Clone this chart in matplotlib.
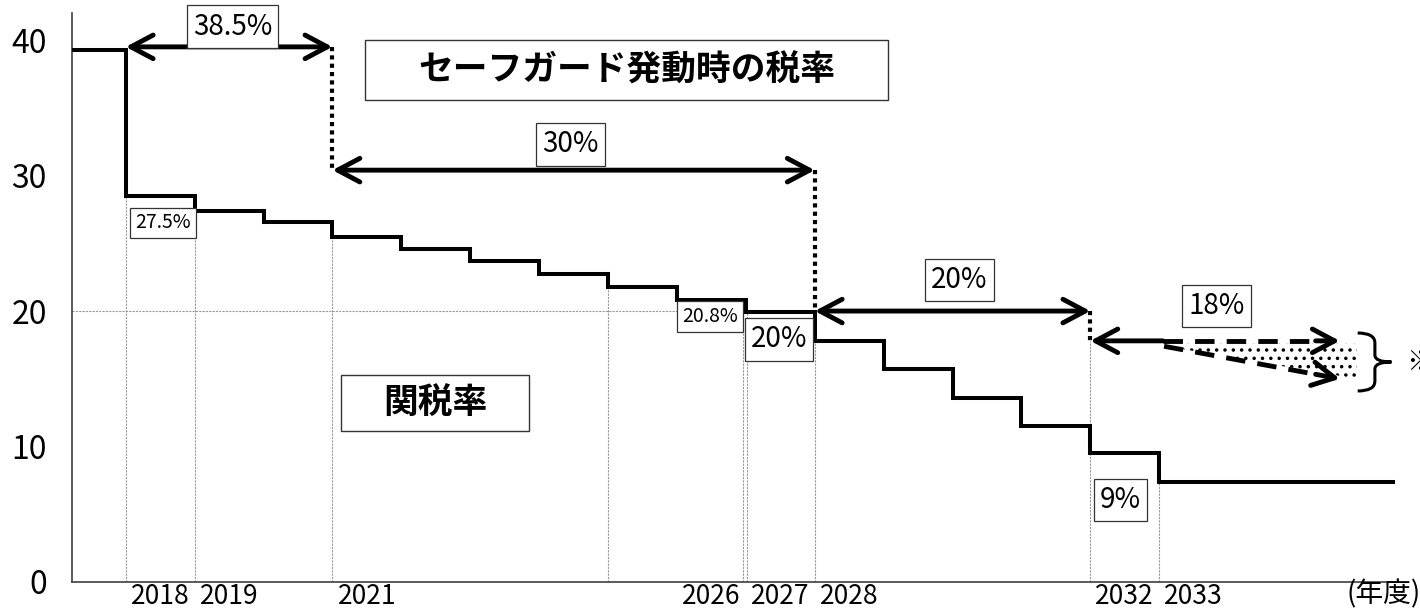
import numpy as np
import matplotlib.pyplot as plt
from matplotlib.patches import Rectangle, PathPatch
from matplotlib.path import Path

plt.rcParams['font.family'] = ['Noto Sans CJK JP', 'DejaVu Sans']
plt.rcParams['hatch.linewidth'] = 1.3

#------------- データ ------------------------------#
# 年度ごとの関税率
years = np.arange(2018, 2034)
rates = [28.5, 27.4, 26.6, 25.5, 24.6, 23.7, 22.7, 21.8,
         20.8, 19.9, 17.8, 15.7, 13.6, 11.5, 9.5, 7.4]
rate_before = 39.3
x_start, x_end = 2017.22, 2036.39

# セーフガード発動時の税率
sg_from = [2018, 2021, 2028, 2032]
sg_to = [2021, 2028, 2032, 2033]
sg_rate = [39.5, 30.4, 20.0, 17.8]
sg_label = ['38.5%', '30%', '20%', '18%']
sg_lower_end = 15.0          # 18% の下限（点線矢印の先）

# 軸の目盛り
tick_years = [2018, 2019, 2021, 2026, 2027, 2028, 2032, 2033]
y_ticks = [0, 10, 20, 30, 40]

# 補助線（年度, 上端の値）
grid_x = [2018, 2019, 2021, 2025, 2026.96, 2027.01, 2028, 2032, 2033]
grid_top = [28.5, 27.4, 25.5, 21.8, 20.8, 19.9, 20.0, 17.8, 7.4]

#------------- 図 ---------------------#
fig = plt.figure(figsize=(14.2, 6.13), dpi=100)
ax = fig.add_axes([72 / 1420, 31 / 613, 1348 / 1420, 569 / 613])
ax.set_xlim(x_start, x_start + 1348 / 68.9)
ax.set_ylim(0, 42.0)

for s in ['top', 'right']:
    ax.spines[s].set_visible(False)
ax.spines['bottom'].set_bounds(x_start, x_end)
for s in ['bottom', 'left']:
    ax.spines[s].set_color('#404040')
    ax.spines[s].set_linewidth(1.2)

ax.set_xticks([y + 0.5 for y in tick_years], labels=[str(y) for y in tick_years])
ax.set_yticks(y_ticks, labels=[str(v) for v in y_ticks])
ax.tick_params(axis='x', length=0, pad=0.5, labelsize=19)
ax.tick_params(axis='y', length=0, pad=18, labelsize=23)

# 補助線
for gx, gt in zip(grid_x, grid_top):
    ax.plot([gx, gx], [0, gt], color='#999999', lw=0.8, ls=(0, (2, 1)), zorder=1)
ax.plot([x_start, 2027.64], [20, 20], color='#999999', lw=0.8, ls=(0, (2, 1)), zorder=1)

# 関税率（階段）
ax.step(np.r_[x_start, years, x_end], np.r_[rate_before, rates, rates[-1]],
        where='post', color='k', lw=2.9, zorder=3, solid_joinstyle='miter')

#------------- セーフガード矢印 ---------------------#
head = 'head_length=1.6,head_width=0.85'
for i in range(3):
    ax.annotate('', xy=(sg_to[i], sg_rate[i]), xytext=(sg_from[i], sg_rate[i]),
                arrowprops=dict(arrowstyle='<->,' + head, lw=3.5, color='k',
                                shrinkA=0, shrinkB=0), zorder=4)
    # 点線でつなぐ
    ax.plot([sg_to[i], sg_to[i]], [sg_rate[i], sg_rate[i + 1]],
            color='k', lw=3, ls=(0, (1, 1)), zorder=4)

# 18%（幅あり）
y18 = sg_rate[3]
ax.annotate('', xy=(sg_from[3], y18), xytext=(sg_to[3] + 0.05, y18),
            arrowprops=dict(arrowstyle='->,' + head, lw=3.5, color='k',
                            shrinkA=0, shrinkB=0), zorder=4)
x_tip = 2035.62
ax.fill_between([sg_to[3] + 0.1, 2035.87], [y18 - 0.4, sg_lower_end], [y18 - 0.2, y18 - 0.2],
                hatch='..', facecolor='none', edgecolor='k', lw=0, zorder=2)
ax.plot([sg_to[3] + 0.05, x_tip - 0.35], [y18, y18], color='k', lw=3.5,
        ls=(0, (4, 2.5)), zorder=4)
ax.annotate('', xy=(x_tip, y18), xytext=(x_tip - 0.35, y18),
            arrowprops=dict(arrowstyle='->,' + head, lw=3.5, color='k',
                            shrinkA=0, shrinkB=0), zorder=4)
lx0, ly0 = sg_to[3] + 0.07, y18 - 0.4
slope = (sg_lower_end - ly0) / (x_tip - lx0)
ax.plot([lx0, x_tip - 0.35], [ly0, ly0 + slope * (x_tip - 0.35 - lx0)], color='k',
        lw=3.5, ls=(0, (4, 2.5)), zorder=4)
ax.annotate('', xy=(x_tip, sg_lower_end),
            xytext=(x_tip - 0.35, sg_lower_end - slope * 0.35),
            arrowprops=dict(arrowstyle='->,' + head, lw=3.5, color='k',
                            shrinkA=0, shrinkB=0), zorder=4)

# 中かっこ
verts = [(2035.88, 18.38), (2036.13, 18.38), (2036.13, 17.64), (2036.13, 16.75),
         (2036.13, 16.24), (2036.37, 16.24), (2036.13, 16.24), (2036.13, 15.72),
         (2036.13, 14.83), (2036.13, 14.10), (2035.88, 14.10)]
codes = [Path.MOVETO, Path.CURVE3, Path.CURVE3, Path.LINETO,
         Path.CURVE3, Path.CURVE3, Path.CURVE3, Path.CURVE3,
         Path.LINETO, Path.CURVE3, Path.CURVE3]
ax.add_patch(PathPatch(Path(verts, codes), fc='none', ec='k', lw=2.2, clip_on=False))
ax.text(2036.58, 16.2, '※', fontsize=20, va='center', ha='left', clip_on=False)

#------------- 文字 ---------------------#
box = dict(boxstyle='square,pad=0.22', fc='white', ec='#333333', lw=0.9)
small_box = dict(boxstyle='square,pad=0.25', fc='white', ec='#333333', lw=0.9)

label_pos = [(2019.55, 41.0), (2024.46, 32.3), (2030.10, 22.3), (2033.83, 20.4)]
for (lx, ly), t in zip(label_pos, sg_label):
    ax.text(lx, ly, t, fontsize=20, ha='center', va='center', bbox=box, zorder=5,
            clip_on=False)

ax.text(2018.54, 26.5, '27.5%', fontsize=14, ha='center', va='center', bbox=small_box, zorder=5)
ax.text(2026.48, 19.6, '20.8%', fontsize=14, ha='center', va='center', bbox=small_box, zorder=5)
ax.text(2027.48, 17.9, '20%', fontsize=20, ha='center', va='center', bbox=box, zorder=5)
ax.text(2032.44, 6.05, '9%', fontsize=20, ha='center', va='center', bbox=box, zorder=5)

ax.add_patch(Rectangle((2021.47, 35.57), 7.59, 4.43, fc='white', ec='#333333', lw=1, zorder=5))
ax.text(2025.27, 37.8, 'セーフガード発動時の税率', fontsize=25, fontweight='bold',
        ha='center', va='center', zorder=6)
ax.add_patch(Rectangle((2021.12, 11.14), 2.74, 4.14, fc='white', ec='#333333', lw=1, zorder=5))
ax.text(2022.49, 13.2, '関税率', fontsize=25, fontweight='bold',
        ha='center', va='center', zorder=6)

ax.text(2035.72, -0.9, '(年度)', fontsize=20, ha='left', va='center', clip_on=False)

fig.savefig('out.png', dpi=100)
